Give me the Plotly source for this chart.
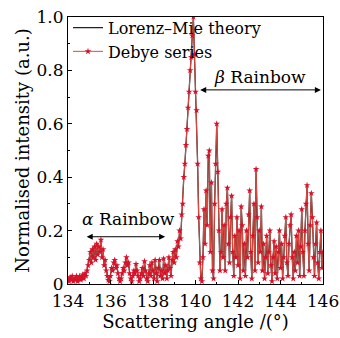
import plotly.graph_objects as go

# Scattering angle grid (degrees)
angle = [
    134.00, 134.05, 134.10, 134.15, 134.20, 134.25, 134.30, 134.35, 134.40, 134.45,
    134.50, 134.55, 134.60, 134.65, 134.70, 134.75, 134.80, 134.85, 134.90, 134.95,
    135.00, 135.05, 135.10, 135.15, 135.20, 135.25, 135.30, 135.35, 135.40, 135.45,
    135.50, 135.55, 135.60, 135.65, 135.70, 135.75, 135.80, 135.85, 135.90, 135.95,
    136.00, 136.05, 136.10, 136.15, 136.20, 136.25, 136.30, 136.35, 136.40, 136.45,
    136.50, 136.55, 136.60, 136.65, 136.70, 136.75, 136.80, 136.85, 136.90, 136.95,
    137.00, 137.05, 137.10, 137.15, 137.20, 137.25, 137.30, 137.35, 137.40, 137.45,
    137.50, 137.55, 137.60, 137.65, 137.70, 137.75, 137.80, 137.85, 137.90, 137.95,
    138.00, 138.05, 138.10, 138.15, 138.20, 138.25, 138.30, 138.35, 138.40, 138.45,
    138.50, 138.55, 138.60, 138.65, 138.70, 138.75, 138.80, 138.85, 138.90, 138.95,
    139.00, 139.05, 139.10, 139.15, 139.20, 139.25, 139.30, 139.35, 139.40, 139.45,
    139.50, 139.55, 139.60, 139.65, 139.70, 139.75, 139.80, 139.85, 139.90, 139.95,
    140.00, 140.05, 140.10, 140.15, 140.20, 140.25, 140.30, 140.35, 140.40, 140.45,
    140.50, 140.55, 140.60, 140.65, 140.70, 140.75, 140.80, 140.85, 140.90, 140.95,
    141.00, 141.05, 141.10, 141.15, 141.20, 141.25, 141.30, 141.35, 141.40, 141.45,
    141.50, 141.55, 141.60, 141.65, 141.70, 141.75, 141.80, 141.85, 141.90, 141.95,
    142.00, 142.05, 142.10, 142.15, 142.20, 142.25, 142.30, 142.35, 142.40, 142.45,
    142.50, 142.55, 142.60, 142.65, 142.70, 142.75, 142.80, 142.85, 142.90, 142.95,
    143.00, 143.05, 143.10, 143.15, 143.20, 143.25, 143.30, 143.35, 143.40, 143.45,
    143.50, 143.55, 143.60, 143.65, 143.70, 143.75, 143.80, 143.85, 143.90, 143.95,
    144.00, 144.05, 144.10, 144.15, 144.20, 144.25, 144.30, 144.35, 144.40, 144.45,
    144.50, 144.55, 144.60, 144.65, 144.70, 144.75, 144.80, 144.85, 144.90, 144.95,
    145.00, 145.05, 145.10, 145.15, 145.20, 145.25, 145.30, 145.35, 145.40, 145.45,
    145.50, 145.55, 145.60, 145.65, 145.70, 145.75, 145.80, 145.85, 145.90, 145.95,
    146.00,
]

# Debye series intensity
debye = [
    0.020, 0.010, 0.025, 0.015, 0.030, 0.010, 0.020, 0.015, 0.030, 0.010,
    0.020, 0.030, 0.015, 0.025, 0.035, 0.020, 0.040, 0.030, 0.050, 0.070,
    0.090, 0.120, 0.080, 0.130, 0.100, 0.140, 0.090, 0.150, 0.110, 0.140,
    0.120, 0.165, 0.100, 0.130, 0.070, 0.090, 0.050, 0.030, 0.015, 0.010,
    0.030, 0.060, 0.050, 0.080, 0.090, 0.060, 0.070, 0.040, 0.020, 0.010,
    0.020, 0.040, 0.060, 0.050, 0.080, 0.100, 0.070, 0.080, 0.040, 0.020,
    0.010, 0.030, 0.050, 0.040, 0.075, 0.050, 0.030, 0.010, 0.020, 0.040,
    0.060, 0.030, 0.085, 0.050, 0.020, 0.010, 0.040, 0.070, 0.030, 0.080,
    0.050, 0.020, 0.090, 0.040, 0.010, 0.060, 0.090, 0.030, 0.050, 0.020,
    0.095, 0.040, 0.070, 0.020, 0.050, 0.100, 0.060, 0.030, 0.090, 0.120,
    0.080, 0.130, 0.100, 0.160, 0.140, 0.200, 0.170, 0.260, 0.300, 0.400,
    0.450, 0.520, 0.580, 0.660, 0.720, 0.800, 0.850, 0.930, 1.000, 0.860,
    0.720, 0.650, 0.450, 0.250, 0.080, 0.020, 0.010, 0.100, 0.280, 0.150,
    0.350, 0.220, 0.480, 0.500, 0.120, 0.380, 0.050, 0.020, 0.300, 0.450,
    0.600, 0.420, 0.200, 0.050, 0.120, 0.280, 0.100, 0.220, 0.050, 0.300,
    0.360, 0.150, 0.080, 0.250, 0.330, 0.120, 0.030, 0.180, 0.100, 0.250,
    0.070, 0.200, 0.020, 0.290, 0.220, 0.050, 0.150, 0.030, 0.200, 0.100,
    0.260, 0.350, 0.120, 0.020, 0.180, 0.300, 0.050, 0.430, 0.250, 0.080,
    0.200, 0.120, 0.290, 0.050, 0.150, 0.020, 0.100, 0.180, 0.040, 0.120,
    0.200, 0.070, 0.010, 0.100, 0.160, 0.040, 0.140, 0.020, 0.120, 0.200,
    0.060, 0.150, 0.020, 0.100, 0.180, 0.250, 0.080, 0.030, 0.150, 0.220,
    0.260, 0.100, 0.020, 0.120, 0.050, 0.180, 0.080, 0.200, 0.030, 0.140,
    0.280, 0.120, 0.030, 0.200, 0.300, 0.370, 0.150, 0.050, 0.220, 0.340,
    0.250, 0.100, 0.030, 0.150, 0.230, 0.080, 0.020, 0.120, 0.200, 0.060,
    0.120,
]

# Lorenz-Mie theory intensity (visually coincides with the Debye series)
lorenz_mie = list(debye)

x_tick_vals = [134, 136, 138, 140, 142, 144, 146]
x_tick_text = ["134", "136", "138", "140", "142", "144", "146"]
y_tick_vals = [0, 0.2, 0.4, 0.6, 0.8, 1.0]
y_tick_text = ["0", "0.2", "0.4", "0.6", "0.8", "1.0"]

FONT = "DejaVu Serif"

fig = go.Figure()
fig.add_trace(go.Scatter(
    x=angle, y=lorenz_mie, mode="lines", name="Lorenz\u2013Mie theory",
    line=dict(color="#222222", width=1.3),
))
fig.add_trace(go.Scatter(
    x=angle, y=debye, mode="lines+markers", name="Debye series",
    line=dict(color="#e04a40", width=1),
    marker=dict(symbol="star", size=5, color="#d8102a", line=dict(width=0)),
))

# Rainbow annotations (double-headed arrows)
fig.add_annotation(x=134.88, y=0.177, ax=138.64, ay=0.177, xref="x", yref="y",
                   axref="x", ayref="y", text="", showarrow=True,
                   arrowhead=2, startarrowhead=2, arrowside="end+start",
                   arrowsize=1.2, startarrowsize=1.2, arrowwidth=1, arrowcolor="black")
fig.add_annotation(x=136.85, y=0.245, xref="x", yref="y", showarrow=False,
                   text="<i>\u03b1</i> Rainbow", font=dict(family=FONT, size=17, color="black"))
fig.add_annotation(x=140.22, y=0.727, ax=145.97, ay=0.727, xref="x", yref="y",
                   axref="x", ayref="y", text="", showarrow=True,
                   arrowhead=2, startarrowhead=2, arrowside="end+start",
                   arrowsize=1.2, startarrowsize=1.2, arrowwidth=1, arrowcolor="black")
fig.add_annotation(x=143.05, y=0.775, xref="x", yref="y", showarrow=False,
                   text="<i>\u03b2</i> Rainbow", font=dict(family=FONT, size=17, color="black"))

axis_common = dict(showline=True, linecolor="black", linewidth=1, mirror=True,
                   ticks="inside", ticklen=4, tickcolor="black", showgrid=False,
                   zeroline=False, automargin=False,
                   tickfont=dict(family=FONT, size=17, color="black"))

fig.update_xaxes(range=[134, 146], tickvals=x_tick_vals, ticktext=x_tick_text,
                 minor=dict(ticks="inside", ticklen=2, dtick=1, tickcolor="black"),
                 ticklabelstandoff=2,
                 title=dict(text="Scattering angle /(\u00b0)", standoff=2,
                            font=dict(family=FONT, size=18, color="black")),
                 **axis_common)
fig.update_yaxes(range=[0, 1], tickvals=y_tick_vals, ticktext=y_tick_text,
                 minor=dict(ticks="inside", ticklen=2, dtick=0.1, tickcolor="black"),
                 title=dict(text="Normalised intensity (a.u.)", standoff=2,
                            font=dict(family=FONT, size=18, color="black")),
                 **axis_common)

fig.update_layout(
    width=340, height=338,
    margin=dict(l=68, r=17, t=16, b=54),
    paper_bgcolor="white", plot_bgcolor="white",
    showlegend=True,
    legend=dict(x=0.0, y=1.02, xanchor="left", yanchor="top",
                bgcolor="rgba(0,0,0,0)", borderwidth=0,
                font=dict(family=FONT, size=16, color="black"),
                tracegroupgap=0, itemwidth=30),
)

fig.write_html("out.html")
